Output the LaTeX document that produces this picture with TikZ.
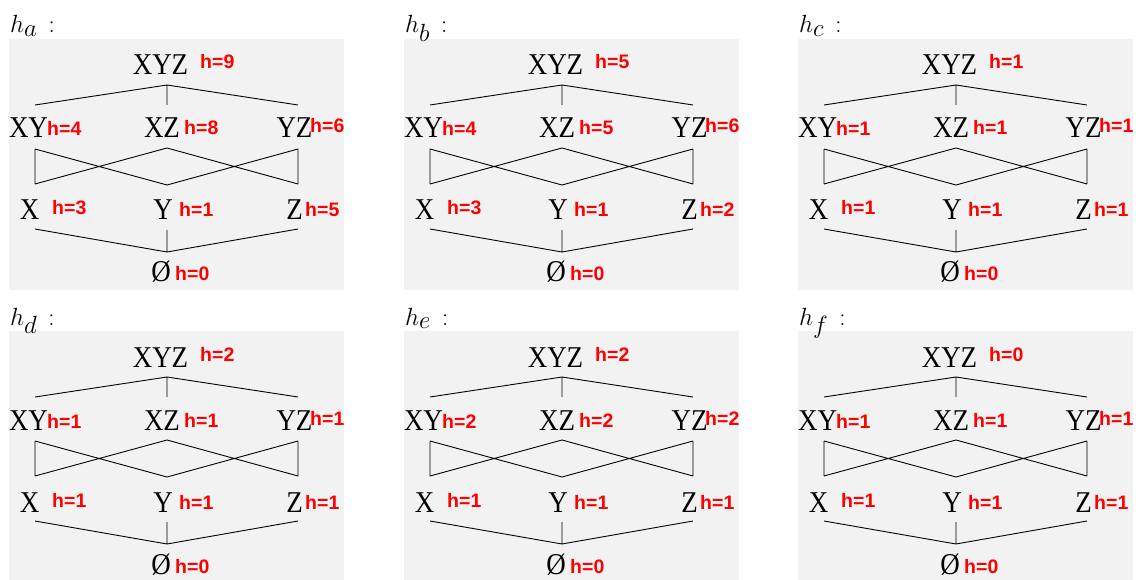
\documentclass[tikz,border=0pt]{standalone}
\usepackage{fontspec}
\newfontfamily\setfont{Liberation Serif}[FakeStretch=0.893]
\newfontfamily\valfont{Liberation Sans}
\definecolor{PanelGray}{HTML}{F2F2F2}
\definecolor{ValRed}{HTML}{FF0000}
\begin{document}
\begin{tikzpicture}[x=1pt,y=-1pt,
  set/.style={anchor=base,inner sep=0pt,font=\setfont\fontsize{30.2}{33}\selectfont},
  hval/.style={anchor=base west,inner sep=0pt,text=ValRed,font=\valfont\bfseries\fontsize{19.5}{22}\selectfont},
  hname/.style={anchor=base west,inner sep=0pt,font=\fontsize{33}{38}\selectfont},
  link/.style={line width=0.9pt}]
\useasboundingbox (0,0) rectangle (1144,580);
\foreach \px/\py/\pn/\vt/\vxy/\vxz/\vyz/\vx/\vy/\vz in {
  9/39/a/9/4/8/6/3/1/5, 404/39/b/5/4/5/6/3/1/2, 798/39/c/1/1/1/1/1/1/1,
  9/331/d/2/1/1/1/1/1/1, 404/331/e/2/2/2/2/1/1/1, 798/331/f/0/1/1/1/1/1/1}{
\begin{scope}[shift={(\px,\py)},name prefix=\pn-]
\fill[PanelGray] (0,0) rectangle (335,251);
\node[hname] (name) at (1,-6) {$h_\pn\,:$};
% lattice elements
\node[set] (xyz) at (151.5,36) {XYZ};
\node[set] (xy) at (19.5,99) {XY};
\node[set] (xz) at (153,99) {XZ};
\node[set] (yz) at (285.5,99) {YZ};
\node[set] (x) at (20.5,181) {X};
\node[set] (y) at (154,181) {Y};
\node[set] (z) at (285.5,181) {Z};
\node[set] (e) at (152,243) {Ø};
% values
\node[hval] (xyz-h) at (191,30) {h=\vt};
\node[hval] (xy-h) at (38,97) {h=\vxy};
\node[hval] (xz-h) at (175,96) {h=\vxz};
\node[hval] (yz-h) at (301,94) {h=\vyz};
\node[hval] (x-h) at (43,176) {h=\vx};
\node[hval] (y-h) at (170,178) {h=\vy};
\node[hval] (z-h) at (296,178) {h=\vz};
\node[hval] (e-h) at (166,242) {h=0};
% line ends
\coordinate (xyz-b) at (158,46);
\coordinate (xy-t) at (26,66); \coordinate (xz-t) at (158,66); \coordinate (yz-t) at (289,66);
\coordinate (xy-b) at (26,110); \coordinate (xz-b) at (158,109); \coordinate (yz-b) at (289,110);
\coordinate (x-t) at (26,145); \coordinate (y-t) at (158,146); \coordinate (z-t) at (289,145);
\coordinate (x-b) at (26,190); \coordinate (y-b) at (158,191); \coordinate (z-b) at (289,190);
\coordinate (e-t) at (158,213);
\draw[link] (xyz-b) -- (xy-t) (xyz-b) -- (xz-t) (xyz-b) -- (yz-t);
\draw[link] (xy-b) -- (x-t) (xy-b) -- (y-t) (xz-b) -- (x-t) (xz-b) -- (z-t) (yz-b) -- (y-t) (yz-b) -- (z-t);
\draw[link] (x-b) -- (e-t) (y-b) -- (e-t) (z-b) -- (e-t);
\end{scope}}
\end{tikzpicture}
\end{document}
